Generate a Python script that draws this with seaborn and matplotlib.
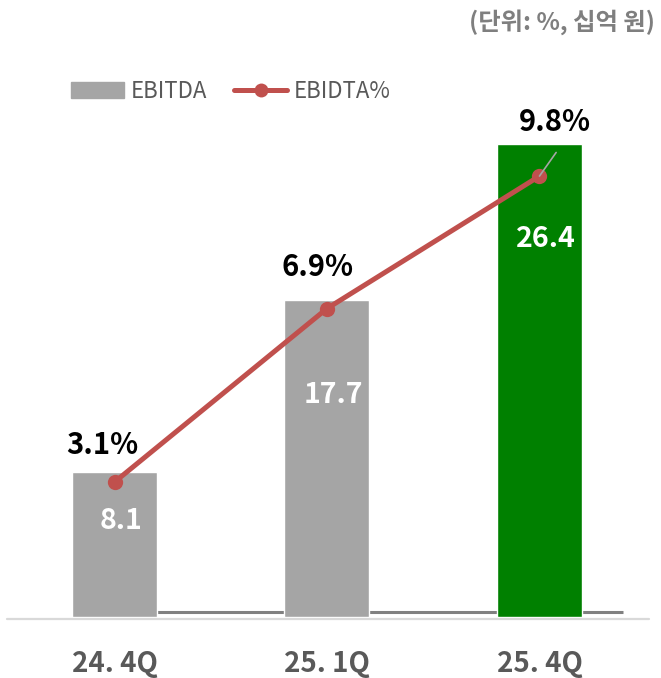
import numpy as np
import seaborn as sns
import matplotlib.pyplot as plt
from matplotlib.patches import Patch
from matplotlib.lines import Line2D

# data
quarters = ["24. 4Q", "25. 1Q", "25. 4Q"]
ebitda = [8.1, 17.7, 26.4]
ebitda_pct = [3.1, 6.9, 9.8]
bar_colors = ["#A5A5A5", "#A5A5A5", "#008000"]

sns.set_theme(style="white")
plt.rcParams["font.family"] = ["Noto Sans CJK KR", "DejaVu Sans"]

fig = plt.figure(figsize=(6.61, 6.78), dpi=100)
ax = fig.add_axes([0, 0.09, 1, 0.851])
x = np.arange(len(quarters))

# dark base line sitting behind the bars
ax.hlines(0.26, 0, 2.393, color="#808080", lw=2.2, zorder=0)

sns.barplot(x=x, y=ebitda, hue=x, palette=bar_colors, legend=False,
            width=0.4, saturation=1, ax=ax, zorder=2)

# value labels inside the bars
label_frac = [0.66, 0.70, 0.80]
for i, v in enumerate(ebitda):
    ax.text(i + 0.03, v * label_frac[i], f"{v:.1f}", ha="center", va="center",
            color="white", fontsize=20.5, fontweight="bold", zorder=5)

ax2 = ax.twinx()
sns.lineplot(x=x, y=ebitda_pct, ax=ax2, color="#C0504D", lw=3.6,
             marker="o", markersize=11, markeredgewidth=0, zorder=3)

pct_offsets = [(-9, 27), (-7, 30), (11, 39)]
for i, v in enumerate(ebitda_pct):
    ax2.annotate(f"{v}%", (i, v), xytext=pct_offsets[i], textcoords="offset points",
                 ha="center", va="center", fontsize=21, fontweight="bold",
                 color="black", zorder=6)
# leader line for the last label
ax2.annotate("", (2, ebitda_pct[2]), xytext=(12, 17), textcoords="offset points",
             arrowprops=dict(arrowstyle="-", color="#A6A6A6", lw=1.2,
                             shrinkA=0, shrinkB=0), zorder=6)

for a in (ax, ax2):
    for s in a.spines.values():
        s.set_visible(False)
    a.set_yticks([])
    a.set_ylabel("")
ax2.set_xticks([])

ax.set_xticks(x, quarters)
ax.tick_params(axis="x", length=0, pad=24, labelsize=20, labelcolor="#595959")
for t in ax.get_xticklabels():
    t.set_fontweight("bold")

ax.set_xlim(-0.539, 2.572)
ax.set_ylim(0, 32.23)
ax2.set_ylim(0.145, 12.78)

# light line under the whole chart
fig.add_artist(Line2D([7 / 661, 649 / 661], [1 - 619 / 678] * 2,
                      color="#D9D9D9", lw=1.6))

handles = [Patch(color="#A5A5A5", label="EBITDA"),
           Line2D([], [], color="#C0504D", lw=3.6, marker="o", markersize=10,
                  markeredgewidth=0, label="EBIDTA%")]
fig.legend(handles=handles, loc="center left", bbox_to_anchor=(71 / 661, 1 - 91 / 678),
           ncol=2, frameon=False, fontsize=16, handlelength=2.4, handletextpad=0.3,
           columnspacing=1.2, borderpad=0, borderaxespad=0, labelcolor="#595959")

fig.text(655 / 661, 1 - 22 / 678, "(단위: %, 십억 원)", ha="right", va="center",
         fontsize=17.5, fontweight="bold", color="#7F7F7F")

fig.savefig("out.png", dpi=100)
